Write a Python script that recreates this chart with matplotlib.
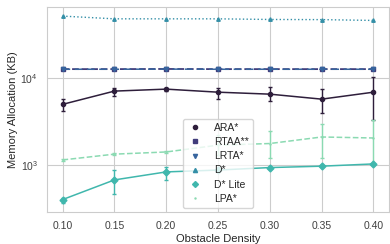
import matplotlib
matplotlib.use("Agg")
import matplotlib.pyplot as plt
import matplotlib.lines as mlines
import seaborn as sns
import numpy as np

sns.set_style("whitegrid")
plt.rcParams['font.family'] = ['Liberation Sans', 'DejaVu Sans']

density = [0.10, 0.15, 0.20, 0.25, 0.30, 0.35, 0.40]

# mean values (KB) and error-bar bounds
ara = [5000, 7100, 7480, 6900, 6550, 5740, 6900]
ara_lo = [4170, 6220, 7150, 5800, 5500, 3950, 3350]
ara_hi = [5740, 7680, 7800, 7680, 7900, 7480, 10270]

rtaa = [12700, 12700, 12750, 12700, 12700, 12700, 12700]
lrta = [12650, 12650, 12700, 12650, 12650, 12650, 12650]

dstar = [51600, 48000, 48000, 48000, 47200, 47000, 46000]

dlite = [403, 678, 838, 880, 940, 975, 1035]
dlite_lo = [369, 464, 685, 850, 915, 950, 1000]
dlite_hi = [421, 893, 962, 910, 965, 1000, 1070]

lpa = [1150, 1340, 1420, 1700, 1775, 2110, 2055]
lpa_lo = [1120, 1300, 1380, 1300, 1214, 1214, 1000]
lpa_hi = [1180, 1380, 1460, 2200, 2460, 3010, 3290]

labels = ['ARA*', 'RTAA**', 'LRTA*', 'D*', 'D* Lite', 'LPA*']
colors = sns.color_palette("mako", 6)
markers = ['o', 's', 'v', '^', 'D', '.']


def yerr(mean, lo, hi):
    mean = np.array(mean)
    return [mean - np.array(lo), np.array(hi) - mean]


fig = plt.figure(figsize=(3.9, 2.44), dpi=100)
ax = fig.add_axes([0.1205, 0.131, 0.877, 0.840])

ax.errorbar(density, ara, yerr=yerr(ara, ara_lo, ara_hi), color=colors[0],
            marker='o', ms=3, lw=1.1, capsize=1.5, elinewidth=1)
ax.plot(density, rtaa, color=colors[1], marker='s', ms=3.5, lw=1.3, ls='--')
ax.plot(density, lrta, color=colors[2], marker='v', ms=3, lw=1.1, ls='--', dashes=(5, 3))
ax.plot(density, dstar, color=colors[3], marker='^', ms=2.5, lw=1.0, ls=':')
ax.errorbar(density, lpa, yerr=yerr(lpa, lpa_lo, lpa_hi), color=colors[5],
            marker='.', ms=1.5, lw=1.1, ls='--', capsize=1.5, elinewidth=1)
ax.errorbar(density, dlite, yerr=yerr(dlite, dlite_lo, dlite_hi), color=colors[4],
            marker='D', ms=3.5, lw=1.1, capsize=1.5, elinewidth=1)

ax.set_yscale('log')
ax.set_ylim(290, 65500)
ax.set_xlim(0.085, 0.415)
ax.set_xticks(density)
ax.set_xticklabels(['%.2f' % d for d in density])
ax.tick_params(labelsize=7.5, pad=3, labelcolor='.25')
ax.set_xlabel('Obstacle Density', fontsize=8, labelpad=2)
ax.set_ylabel('Memory Allocation (KB)', fontsize=8, labelpad=2)
ax.grid(which='minor', visible=False)

handles = []
for lab, c, m in zip(labels, colors, markers):
    ms = 1.5 if m == '.' else 3
    handles.append(mlines.Line2D([], [], color=c, marker=m, ls='none', ms=ms, label=lab))
ax.legend(handles=handles, loc='lower center', fontsize=7.5, frameon=True,
          borderaxespad=0.4, handletextpad=1.0, handlelength=1.6, labelspacing=0.4)

plt.savefig('out.png', dpi=100)
